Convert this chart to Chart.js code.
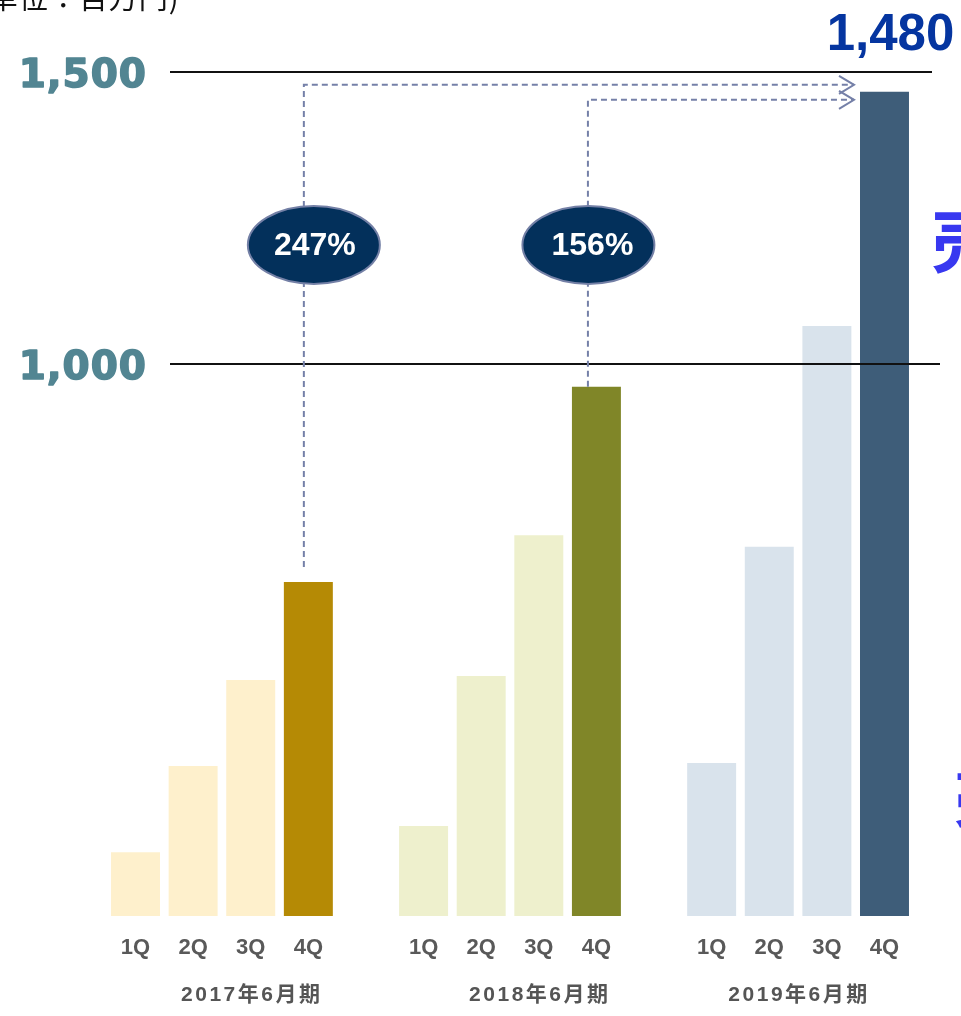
<!DOCTYPE html>
<html>
<head>
<meta charset="utf-8">
<script src="https://cdn.jsdelivr.net/npm/chart.js@4.4.1/dist/chart.umd.min.js"></script>
<style>
  html, body { margin: 0; padding: 0; background: #fff; overflow: hidden; }
  #wrap { width: 961px; height: 1016px; position: relative; }
</style>
</head>
<body>
<div id="wrap"><canvas id="salesChart"></canvas></div>
<script>
// Quarterly sales by fiscal year (百万円)
const quarters = ['1Q', '2Q', '3Q', '4Q'];
const fiscalYears = ['2017年6月期', '2018年6月期', '2019年6月期'];
const fy2017 = [164, 312, 459, 627];
const fy2018 = [209, 466, 707, 961];
const fy2019 = [317, 687, 1065, 1466];
const yTicks = [1000, 1500];
const growthLabels = ['247%', '156%'];
const topValueLabel = '1,480';
const unitLabel = '(単位：百万円)';

const lightColors = ['#fef0cc', '#eef0cd', '#d9e3ec'];
const darkColors = ['#b58a05', '#808628', '#3e5d79'];

// build 14 slots: 4 bars, empty slot, 4 bars, empty slot, 4 bars
const series = [fy2017, fy2018, fy2019];
const labels = [];
const values = [];
const colors = [];
const groupStart = [];
series.forEach((vals, g) => {
  groupStart.push(labels.length);
  vals.forEach((v, q) => {
    labels.push(quarters[q]);
    values.push(v);
    colors.push(q === 3 ? darkColors[g] : lightColors[g]);
  });
  if (g < series.length - 1) {
    labels.push('');
    values.push(null);
    colors.push('rgba(0,0,0,0)');
  }
});

function dashedConnector(ctx, x, yFrom, yTo, xTo) {
  ctx.save();
  ctx.strokeStyle = '#7580a8';
  ctx.lineWidth = 2;
  ctx.setLineDash([6, 4]);
  ctx.beginPath();
  ctx.moveTo(x, yFrom);
  ctx.lineTo(x, yTo);
  ctx.lineTo(xTo, yTo);
  ctx.stroke();
  ctx.setLineDash([]);
  ctx.beginPath();
  ctx.moveTo(xTo - 15, yTo - 9);
  ctx.lineTo(xTo, yTo);
  ctx.lineTo(xTo - 15, yTo + 9);
  ctx.stroke();
  ctx.restore();
}

function growthBubble(ctx, cx, cy, text, textX) {
  ctx.save();
  ctx.beginPath();
  ctx.ellipse(cx, cy, 66, 39, 0, 0, Math.PI * 2);
  ctx.fillStyle = '#03305b';
  ctx.fill();
  ctx.lineWidth = 2;
  ctx.strokeStyle = '#7480a6';
  ctx.stroke();
  ctx.fillStyle = '#ffffff';
  ctx.font = 'bold 32px "Liberation Sans", Arial, sans-serif';
  ctx.textAlign = 'center';
  ctx.textBaseline = 'middle';
  ctx.fillText(text, textX, cy + 1);
  ctx.restore();
}

const overlayPlugin = {
  id: 'overlay',
  afterDraw(chart) {
    const ctx = chart.ctx;
    const x = chart.scales.x;
    const y = chart.scales.y;
    const bars = chart.getDatasetMeta(0).data;

    // unit label, clipped at the top-left corner
    ctx.save();
    ctx.fillStyle = '#111';
    ctx.font = '29px "Noto Sans CJK JP", sans-serif';
    ctx.textAlign = 'left';
    ctx.textBaseline = 'alphabetic';
    ctx.letterSpacing = '1px';
    ctx.fillText(unitLabel, -22, 9);
    ctx.restore();

    // clipped blue glyphs at the right edge
    ctx.save();
    ctx.fillStyle = '#3838f0';
    ctx.font = 'bold 70px "Noto Sans CJK JP", sans-serif';
    ctx.textAlign = 'left';
    ctx.textBaseline = 'top';
    ctx.fillText('売', 931, 205);
    ctx.font = 'bold 62px "Noto Sans CJK JP", sans-serif';
    ctx.fillText('売', 954, 767);
    ctx.restore();

    // reference lines and their labels
    const lineRight = [940, 932];
    yTicks.forEach((t, i) => {
      const py = y.getPixelForValue(t);
      ctx.save();
      ctx.strokeStyle = '#111';
      ctx.lineWidth = 2;
      ctx.beginPath();
      ctx.moveTo(170, py);
      ctx.lineTo(lineRight[i], py);
      ctx.stroke();
      ctx.fillStyle = '#528592';
      ctx.strokeStyle = '#528592';
      ctx.lineWidth = 1.5;
      ctx.lineJoin = 'round';
      ctx.letterSpacing = '1px';
      ctx.font = 'bold 39px "DejaVu Sans", Verdana, sans-serif';
      ctx.textAlign = 'right';
      ctx.textBaseline = 'middle';
      const label = t.toLocaleString('en-US');
      ctx.strokeText(label, 147, py + 5);
      ctx.fillText(label, 147, py + 5);
      ctx.restore();
    });

    // growth connectors from the 4Q bars to the latest 4Q bar
    const last = bars[groupStart[2] + 3];
    const tipX = last.x - last.width / 2 - 6;
    const b17 = bars[groupStart[0] + 3];
    const b18 = bars[groupStart[1] + 3];
    dashedConnector(ctx, b17.x - 4.5, b17.y - 15, last.y - 7, tipX);
    dashedConnector(ctx, b18.x - 8.5, b18.y, last.y + 8, tipX);

    const bubbleY = y.getPixelForValue(1204);
    growthBubble(ctx, b17.x + 5.5, bubbleY, growthLabels[0], b17.x + 6.5);
    growthBubble(ctx, b18.x - 8, bubbleY, growthLabels[1], b18.x - 4);

    // headline value above the last bar
    ctx.save();
    ctx.fillStyle = '#0535a0';
    ctx.font = 'bold 51px "Liberation Sans", Arial, sans-serif';
    ctx.textAlign = 'center';
    ctx.textBaseline = 'alphabetic';
    ctx.fillText(topValueLabel, last.x + 6, 50);
    ctx.restore();

    // fiscal year labels under the quarter ticks
    const yearSlot = [2, 2, 1.5];
    ctx.save();
    ctx.fillStyle = '#555';
    ctx.font = 'bold 21px "Liberation Sans", "Noto Sans CJK JP", sans-serif';
    ctx.letterSpacing = '2.5px';
    ctx.textAlign = 'center';
    ctx.textBaseline = 'middle';
    fiscalYears.forEach((fy, g) => {
      const px = x.getPixelForValue(groupStart[g] + yearSlot[g]);
      ctx.fillText(fy, px + 1, 995);
    });
    ctx.restore();
  }
};

const chart = new Chart(document.getElementById('salesChart'), {
  type: 'bar',
  data: {
    labels: labels,
    datasets: [{
      data: values,
      backgroundColor: colors,
      borderWidth: 0,
      categoryPercentage: 1,
      barPercentage: 0.85
    }]
  },
  options: {
    responsive: true,
    maintainAspectRatio: false,
    animation: false,
    events: [],
    layout: { padding: { top: 72, left: 106.7, right: 47.7, bottom: 0 } },
    plugins: {
      legend: { display: false },
      tooltip: { enabled: false }
    },
    scales: {
      x: {
        grid: { display: false, drawTicks: false },
        border: { display: false },
        ticks: {
          color: '#595959',
          padding: 19,
          maxRotation: 0,
          autoSkip: false,
          font: { family: '"Liberation Sans", Arial, sans-serif', size: 22, weight: 'bold' }
        },
        afterFit(scale) { scale.height = 100; }
      },
      y: {
        display: false,
        min: 55,
        max: 1500
      }
    }
  },
  plugins: [overlayPlugin]
});
</script>
</body>
</html>
